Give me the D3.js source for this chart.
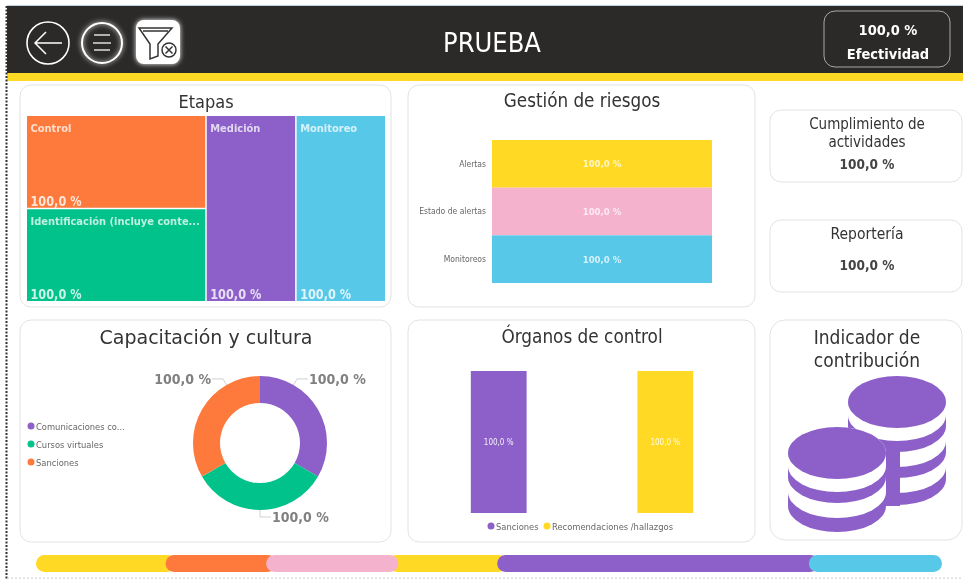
<!DOCTYPE html>
<html>
<head>
<meta charset="utf-8">
<script src="https://cdnjs.cloudflare.com/ajax/libs/d3/7.8.5/d3.min.js"></script>
<style>
  html, body { margin: 0; padding: 0; background: #fff; overflow: hidden; }
  svg { display: block; filter: blur(0.4px); }
  text { font-family: "DejaVu Sans Condensed", "DejaVu Sans", sans-serif; }
</style>
</head>
<body>
<svg id="chart" width="963" height="579"></svg>
<script>
/* global d3: false */
const purple = '#8c60c8';
const yellow = '#ffd923';
const orange = '#fd7a3c';
const green = '#00c28a';
const blue = '#58c8e8';
const pink = '#f4b2cc';

const etapasNames = ['Control', 'Identificación (incluye conte...', 'Medición', 'Monitoreo'];
const etapasAreas = [1, 1, 1, 1];
const etapasColors = [orange, green, purple, blue];

const riesgosNames = ['Alertas', 'Estado de alertas', 'Monitoreos'];
const riesgosValues = [100, 100, 100];
const riesgosColors = [yellow, pink, blue];

const culturaNames = ['Comunicaciones co...', 'Cursos virtuales', 'Sanciones'];
const culturaValues = [100, 100, 100];
const culturaColors = [purple, green, orange];

const organosNames = ['Sanciones', 'Recomendaciones /hallazgos'];
const organosValues = [100, 100];
const organosColors = [purple, yellow];

const progressShares = [14.3, 11.1, 14.6, 10.9, 34.4, 14.7];
const progressColors = [yellow, orange, pink, yellow, purple, blue];

const svg = d3.select('#chart');
const labelText = '100,0 %';

function card(x, y, w, h, r) {
  svg.append('rect')
    .attr('x', x).attr('y', y).attr('width', w).attr('height', h)
    .attr('rx', r || 11)
    .attr('fill', '#fff')
    .attr('stroke', '#e2e2e2')
    .attr('stroke-width', 1);
}

function label(x, y, text, size, color, anchor) {
  return svg.append('text')
    .attr('x', x).attr('y', y)
    .attr('font-size', size)
    .attr('fill', color || '#333')
    .attr('text-anchor', anchor || 'middle')
    .text(text);
}

function drawHeader() {
  const defs = svg.append('defs');
  const glow = defs.append('filter').attr('id', 'glow')
    .attr('x', '-30%').attr('y', '-30%').attr('width', '160%').attr('height', '160%');
  glow.append('feDropShadow')
    .attr('dx', 0).attr('dy', 0).attr('stdDeviation', 2.5)
    .attr('flood-color', '#fff');

  svg.append('rect').attr('x', 7).attr('y', 5).attr('width', 956).attr('height', 1).attr('fill', '#bcd0e0');
  svg.append('rect').attr('x', 7).attr('y', 6).attr('width', 956).attr('height', 67).attr('fill', '#2b2a29');
  svg.append('rect').attr('x', 7).attr('y', 73).attr('width', 956).attr('height', 8).attr('fill', yellow);
  svg.append('line')
    .attr('x1', 6.5).attr('y1', 6).attr('x2', 6.5).attr('y2', 579)
    .attr('stroke', '#333').attr('stroke-width', 2).attr('stroke-dasharray', '2 1.5');
  svg.append('line')
    .attr('x1', 7).attr('y1', 578).attr('x2', 963).attr('y2', 578)
    .attr('stroke', '#ccc').attr('stroke-width', 1).attr('stroke-dasharray', '2 2');

  // back button
  svg.append('circle').attr('cx', 48).attr('cy', 43).attr('r', 21)
    .attr('fill', 'none').attr('stroke', '#fff').attr('stroke-width', 1.6);
  svg.append('path').attr('d', 'M62 43H36M46 32L35 43L46 54')
    .attr('fill', 'none').attr('stroke', '#fff').attr('stroke-width', 1.5);

  // menu button
  svg.append('circle').attr('cx', 102).attr('cy', 43).attr('r', 20)
    .attr('fill', 'none').attr('stroke', '#fff').attr('stroke-width', 2)
    .attr('filter', 'url(#glow)');
  svg.append('path').attr('d', 'M94 35H110M93 43H111M94 50H110')
    .attr('fill', 'none').attr('stroke', '#ddd').attr('stroke-width', 1.3);

  // clear filter button
  svg.append('rect').attr('x', 136).attr('y', 20).attr('width', 44).attr('height', 44).attr('rx', 8)
    .attr('fill', '#fff').attr('filter', 'url(#glow)');
  svg.append('path').attr('d', 'M139 28H172L158 44V56L150 59V44Z M143 31H168')
    .attr('fill', 'none').attr('stroke', '#333').attr('stroke-width', 1.5);
  svg.append('circle').attr('cx', 169).attr('cy', 50).attr('r', 7)
    .attr('fill', '#fff').attr('stroke', '#333').attr('stroke-width', 1.5);
  svg.append('path').attr('d', 'M165.5 46.5L172.5 53.5M172.5 46.5L165.5 53.5')
    .attr('stroke', '#333').attr('stroke-width', 1.5);

  label(492, 52, 'PRUEBA', 27, '#fff');

  svg.append('rect').attr('x', 824).attr('y', 11).attr('width', 126).attr('height', 56).attr('rx', 11)
    .attr('fill', 'none').attr('stroke', '#a8a8a8').attr('stroke-width', 1);
  label(888, 35, labelText, 14.5, '#fff').attr('font-weight', 'bold');
  label(888, 59, 'Efectividad', 14.5, '#fff').attr('font-weight', 'bold');
}

function drawEtapas() {
  card(20, 85, 371, 222);
  label(206, 108, 'Etapas', 18);

  const root = d3.hierarchy({
    children: [
      { children: [0, 1].map(i => ({ index: i, value: etapasAreas[i] })) },
      { index: 2, value: etapasAreas[2] },
      { index: 3, value: etapasAreas[3] },
    ],
  }).sum(d => d.value || 0);

  d3.treemap()
    .size([358, 185])
    .paddingInner(1.5)
    .tile((node, x0, y0, x1, y1) => {
      if (node.depth === 0) d3.treemapDice(node, x0, y0, x1, y1);
      else d3.treemapSlice(node, x0, y0, x1, y1);
    })
    .round(false)(root);

  const cells = svg.append('g')
    .attr('transform', 'translate(27,116)')
    .selectAll('g')
    .data(root.leaves())
    .join('g')
    .attr('transform', d => `translate(${d.x0},${d.y0})`);

  cells.append('rect')
    .attr('width', d => d.x1 - d.x0)
    .attr('height', d => d.y1 - d.y0)
    .attr('fill', d => etapasColors[d.data.index]);
  cells.append('text')
    .attr('x', 3.5).attr('y', 16)
    .attr('font-size', 11)
    .attr('fill', '#fff')
    .attr('fill-opacity', 0.75)
    .attr('font-weight', 'bold')
    .text(d => etapasNames[d.data.index]);
  cells.append('text')
    .attr('x', 3.5)
    .attr('y', d => d.y1 - d.y0 - 2)
    .attr('font-size', 14)
    .attr('font-weight', 'bold')
    .attr('fill', '#fff')
    .attr('fill-opacity', 0.8)
    .attr('textLength', 51)
    .attr('lengthAdjust', 'spacingAndGlyphs')
    .text(labelText);
}

function drawRiesgos() {
  card(408, 85, 347, 222);
  label(582, 107, 'Gestión de riesgos', 18.7);

  const y = d3.scaleBand().domain(riesgosNames).range([140, 283]).padding(0);
  const x = d3.scaleLinear().domain([0, 100]).range([492, 712]);

  svg.append('g').selectAll('rect')
    .data(riesgosNames)
    .join('rect')
    .attr('x', x(0))
    .attr('y', d => y(d))
    .attr('width', (d, i) => x(riesgosValues[i]) - x(0))
    .attr('height', y.bandwidth())
    .attr('fill', (d, i) => riesgosColors[i]);

  const axis = svg.append('g')
    .attr('transform', `translate(${x(0)},0)`)
    .call(d3.axisLeft(y).tickSize(0).tickPadding(6));
  axis.select('.domain').remove();
  axis.selectAll('text').attr('font-size', 8.5).attr('fill', '#666')
    .style('font-family', '"DejaVu Sans Condensed", "DejaVu Sans", sans-serif');

  svg.append('g').selectAll('text')
    .data(riesgosNames)
    .join('text')
    .attr('x', d => (x(0) + x(100)) / 2)
    .attr('y', d => y(d) + (y.bandwidth() / 2) + 3.5)
    .attr('text-anchor', 'middle')
    .attr('font-size', 9.5)
    .attr('font-weight', 'bold')
    .attr('fill', '#fff')
    .attr('fill-opacity', 0.75)
    .text(labelText);
}

function drawKpis() {
  card(770, 110, 192, 72);
  label(867, 129, 'Cumplimiento de', 15);
  label(867, 147, 'actividades', 15);
  label(867, 169, labelText, 13.5).attr('font-weight', 'bold').attr('fill', '#444');

  card(770, 220, 192, 72);
  label(867, 239, 'Reportería', 15.5);
  label(867, 270, labelText, 13.5).attr('font-weight', 'bold').attr('fill', '#444');
}

function drawCultura() {
  card(20, 320, 371, 222);
  label(206, 344, 'Capacitación y cultura', 19)
    .style('font-family', '"DejaVu Sans", sans-serif');

  const cx = 260;
  const cy = 443;
  const outer = 67;
  const pie = d3.pie().sort(null)(culturaValues);
  const arc = d3.arc().innerRadius(40).outerRadius(outer);

  const g = svg.append('g').attr('transform', `translate(${cx},${cy})`);
  g.selectAll('path')
    .data(pie)
    .join('path')
    .attr('d', arc)
    .attr('fill', (d, i) => culturaColors[i]);

  // leader lines leave the ring at these angles, not the slice middle
  const leaderAngles = [30, 180, 330];
  const leaderSides = [1, 1, -1];
  leaderAngles.forEach((deg, i) => {
    const a = (deg * Math.PI) / 180;
    const px = Math.sin(a) * outer;
    const py = -Math.cos(a) * outer;
    const ex = Math.sin(a) * (outer + 7);
    const ey = -Math.cos(a) * (outer + 7);
    const hx = ex + (leaderSides[i] * 11);
    g.append('path')
      .attr('d', `M${px},${py}L${ex},${ey}L${hx},${ey}`)
      .attr('fill', 'none')
      .attr('stroke', '#c4c4c4')
      .attr('stroke-width', 0.8);
    g.append('text')
      .attr('x', hx + leaderSides[i])
      .attr('y', ey + 5)
      .attr('text-anchor', leaderSides[i] > 0 ? 'start' : 'end')
      .attr('font-size', 14)
      .attr('font-weight', 'bold')
      .attr('fill', '#808080')
      .text(labelText);
  });

  const legend = d3.scalePoint().domain(culturaNames).range([426, 462]);
  const items = svg.append('g').selectAll('g')
    .data(culturaNames)
    .join('g')
    .attr('transform', d => `translate(31,${legend(d)})`);
  items.append('circle').attr('r', 3.5).attr('fill', (d, i) => culturaColors[i]);
  items.append('text')
    .attr('x', 5).attr('y', 3.5)
    .attr('font-size', 9.3)
    .attr('fill', '#666')
    .text(d => d);
}

function drawOrganos() {
  card(408, 320, 347, 222);
  label(582, 343, 'Órganos de control', 18.8);

  const x = d3.scaleBand().domain(organosNames).range([415, 749]).paddingInner(0.665).paddingOuter(0.335);
  const y = d3.scaleLinear().domain([0, 100]).range([513, 371]);

  svg.append('g').selectAll('rect')
    .data(organosNames)
    .join('rect')
    .attr('x', d => x(d))
    .attr('y', (d, i) => y(organosValues[i]))
    .attr('width', x.bandwidth())
    .attr('height', (d, i) => y(0) - y(organosValues[i]))
    .attr('fill', (d, i) => organosColors[i]);

  svg.append('g').selectAll('text')
    .data(organosNames)
    .join('text')
    .attr('x', d => x(d) + (x.bandwidth() / 2))
    .attr('y', (d, i) => y(organosValues[i] / 2) + 3)
    .attr('text-anchor', 'middle')
    .attr('font-size', 8)
    .attr('fill', '#fff')
    .attr('fill-opacity', 0.9)
    .text(labelText);

  const legendStart = [491, 547];
  const items = svg.append('g').selectAll('g')
    .data(organosNames)
    .join('g')
    .attr('transform', (d, i) => `translate(${legendStart[i]},526)`);
  items.append('circle').attr('r', 3.5).attr('fill', (d, i) => organosColors[i]);
  items.append('text')
    .attr('x', 5).attr('y', 3.5)
    .attr('font-size', 9.3)
    .attr('fill', '#666')
    .text(d => d);
}

function cylinder(cx, top, bottom, color) {
  const rx = 49;
  const ry = 26;
  const p = `M${cx - rx},${top}A${rx},${ry} 0 0 1 ${cx + rx},${top}V${bottom}A${rx},${ry} 0 0 1 ${cx - rx},${bottom}Z`;
  svg.append('path').attr('d', p).attr('fill', color);
}

function coinStack(cx, top, layers) {
  // painted from the bottom disc upwards
  for (let i = layers.length - 1; i >= 0; i -= 1) {
    cylinder(cx, top + layers[i][0], top + layers[i][1], layers[i][2]);
  }
}

function drawIndicador() {
  card(770, 320, 192, 220, 15);
  label(867, 344, 'Indicador de', 19);
  label(867, 367, 'contribución', 19);

  coinStack(897, 402, [
    [0, 0, purple],
    [0, 13, '#fff'],
    [13, 24, purple],
    [24, 39, '#fff'],
    [39, 50, purple],
    [50, 65, '#fff'],
    [65, 77, purple],
  ]);
  svg.append('rect').attr('x', 886).attr('y', 450).attr('width', 14).attr('height', 56).attr('fill', purple);
  coinStack(837, 453, [
    [0, 0, purple],
    [0, 13, '#fff'],
    [13, 24, purple],
    [24, 39, '#fff'],
    [39, 53, purple],
  ]);
}

function drawProgress() {
  const total = d3.sum(progressShares);
  const x = d3.scaleLinear().domain([0, total]).range([36, 942]);
  const stops = d3.cumsum(progressShares);
  const segments = progressShares.map((v, i) => ({
    index: i,
    color: progressColors[i],
    start: i === 0 ? 0 : stops[i - 1],
    end: stops[i],
  }));
  // the second yellow runs under the pink end cap, so it is painted first
  const order = [0, 1, 3, 2, 4, 5];
  svg.append('g').selectAll('rect')
    .data(order.map(i => segments[i]))
    .join('rect')
    .attr('x', d => x(d.start) - (d.index === 3 ? 10 : 0))
    .attr('y', 555)
    .attr('width', (d) => {
      const left = d.index === 3 ? 10 : 0;
      const right = d.index === 2 || d.index === 5 ? 0 : 10;
      return (x(d.end) - x(d.start)) + left + right;
    })
    .attr('height', 17)
    .attr('rx', 8.5)
    .attr('fill', d => d.color);
}

drawHeader();
drawEtapas();
drawRiesgos();
drawKpis();
drawCultura();
drawOrganos();
drawIndicador();
drawProgress();
</script>
</body>
</html>
